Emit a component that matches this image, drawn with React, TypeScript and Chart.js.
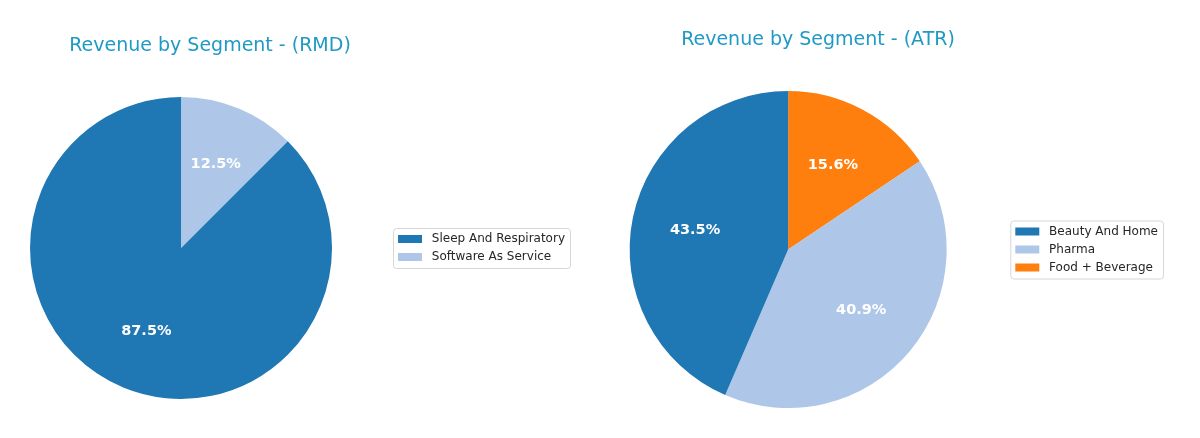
import { useEffect, useRef } from "react";
import { Chart, ChartConfiguration, registerables } from "chart.js";

Chart.register(...registerables);

// segment shares (%)
const rmdSegments = ["Sleep And Respiratory", "Software As Service"];
const rmdShares = [87.5, 12.5];
const atrSegments = ["Beauty And Home", "Pharma", "Food + Beverage"];
const atrShares = [43.5, 40.9, 15.6];

const segmentColors = ["#1f77b4", "#aec7e8", "#ff7f0e"];
const titleColor = "#1f9ac4";
const FONT = "'DejaVu Sans', sans-serif";

// draws the percentage inside each slice, 0.6 of the radius out
const pctLabels = {
  id: "pctLabels",
  afterDatasetsDraw: (chart: Chart) => {
    const ctx = chart.ctx;
    const meta = chart.getDatasetMeta(0);
    const data = chart.data.datasets[0].data as number[];
    const total = data.reduce((a, b) => a + b, 0);
    ctx.save();
    ctx.font = `bold 14.5px ${FONT}`;
    ctx.fillStyle = "#ffffff";
    ctx.textAlign = "center";
    ctx.textBaseline = "middle";
    meta.data.forEach((arc, i) => {
      const { x, y, startAngle, endAngle, outerRadius } = arc.getProps(
        ["x", "y", "startAngle", "endAngle", "outerRadius"],
        true
      ) as any;
      const mid = (startAngle + endAngle) / 2;
      const r = outerRadius * 0.6;
      ctx.fillText(
        ((data[i] / total) * 100).toFixed(1) + "%",
        x + Math.cos(mid) * r,
        y + Math.sin(mid) * r
      );
    });
    ctx.restore();
  },
};

// matplotlib-like rounded frame round the legend
const legendFrame = {
  id: "legendFrame",
  beforeDraw: (chart: any) => {
    const boxes = chart.legend?.legendHitBoxes;
    if (!boxes || !boxes.length) return;
    const x0 = Math.min(...boxes.map((b: any) => b.left)) - 5;
    const x1 = Math.max(...boxes.map((b: any) => b.left + b.width)) + 5;
    const y0 = boxes[0].top - 5;
    const last = boxes[boxes.length - 1];
    const y1 = last.top + last.height + 5;
    const ctx = chart.ctx;
    ctx.save();
    ctx.beginPath();
    ctx.roundRect(x0 + 0.5, y0 + 0.5, x1 - x0, y1 - y0, 3);
    ctx.fillStyle = "rgba(255,255,255,0.8)";
    ctx.fill();
    ctx.strokeStyle = "#d6d6d6";
    ctx.lineWidth = 1;
    ctx.stroke();
    ctx.restore();
  },
};

type PieProps = {
  title: string;
  titleX: number;
  titleY: number;
  labels: string[];
  values: number[];
  left: number;
  width: number;
  padding: { left: number; right: number; top: number; bottom: number };
};

const SegmentPie = (p: PieProps) => {
  const canvasRef = useRef<HTMLCanvasElement>(null);

  useEffect(() => {
    if (!canvasRef.current) return;

    // title is centred over the axes box as matplotlib does, not over the canvas
    const axesTitle = {
      id: "axesTitle",
      afterDraw: (chart: Chart) => {
        const ctx = chart.ctx;
        ctx.save();
        ctx.font = `19px ${FONT}`;
        ctx.fillStyle = titleColor;
        ctx.textAlign = "center";
        ctx.textBaseline = "middle";
        ctx.fillText(p.title, p.titleX - p.left, p.titleY);
        ctx.restore();
      },
    };

    // matplotlib draws counter-clockwise, Chart.js clockwise: reverse the data,
    // and reverse the legend back
    const colors = segmentColors.slice(0, p.labels.length);
    const config: ChartConfiguration<"pie"> = {
      type: "pie",
      data: {
        labels: [...p.labels].reverse(),
        datasets: [
          {
            data: [...p.values].reverse(),
            backgroundColor: [...colors].reverse(),
            borderWidth: 0,
          },
        ],
      },
      options: {
        animation: false,
        responsive: true,
        maintainAspectRatio: false,
        events: [],
        layout: { padding: p.padding },
        plugins: {
          title: { display: false },
          legend: {
            position: "right",
            align: "center",
            fullSize: false,
            reverse: true,
            labels: {
              color: "#262626",
              font: { family: FONT, size: 12 },
              boxWidth: 24,
              boxHeight: 8,
              padding: 6,
              generateLabels: (chart) =>
                Chart.overrides.pie.plugins.legend.labels
                  .generateLabels(chart)
                  .map((item) => ({ ...item, text: " " + item.text })),
            },
          },
          tooltip: { enabled: false },
        },
      },
      plugins: [legendFrame, pctLabels, axesTitle],
    };
    const chart = new Chart(canvasRef.current, config);
    return () => {
      chart.destroy();
    };
  }, []);

  return (
    <div
      style={{
        position: "absolute",
        left: p.left,
        top: 0,
        width: p.width,
        height: 438,
      }}
    >
      <canvas ref={canvasRef} />
    </div>
  );
};

export default function App() {
  return (
    <div
      style={{
        position: "fixed",
        left: 0,
        top: 0,
        width: 1200,
        height: 438,
        overflow: "hidden",
        background: "#ffffff",
      }}
    >
      <SegmentPie
        title="Revenue by Segment - (RMD)"
        titleX={210}
        titleY={46.4}
        labels={rmdSegments}
        values={rmdShares}
        left={-40}
        width={640}
        padding={{ left: 10, right: 25, top: 97, bottom: 39 }}
      />
      <SegmentPie
        title="Revenue by Segment - (ATR)"
        titleX={818}
        titleY={40.4}
        labels={atrSegments}
        values={atrShares}
        left={560}
        width={640}
        padding={{ left: 7, right: 32, top: 91, bottom: 30 }}
      />
    </div>
  );
}
